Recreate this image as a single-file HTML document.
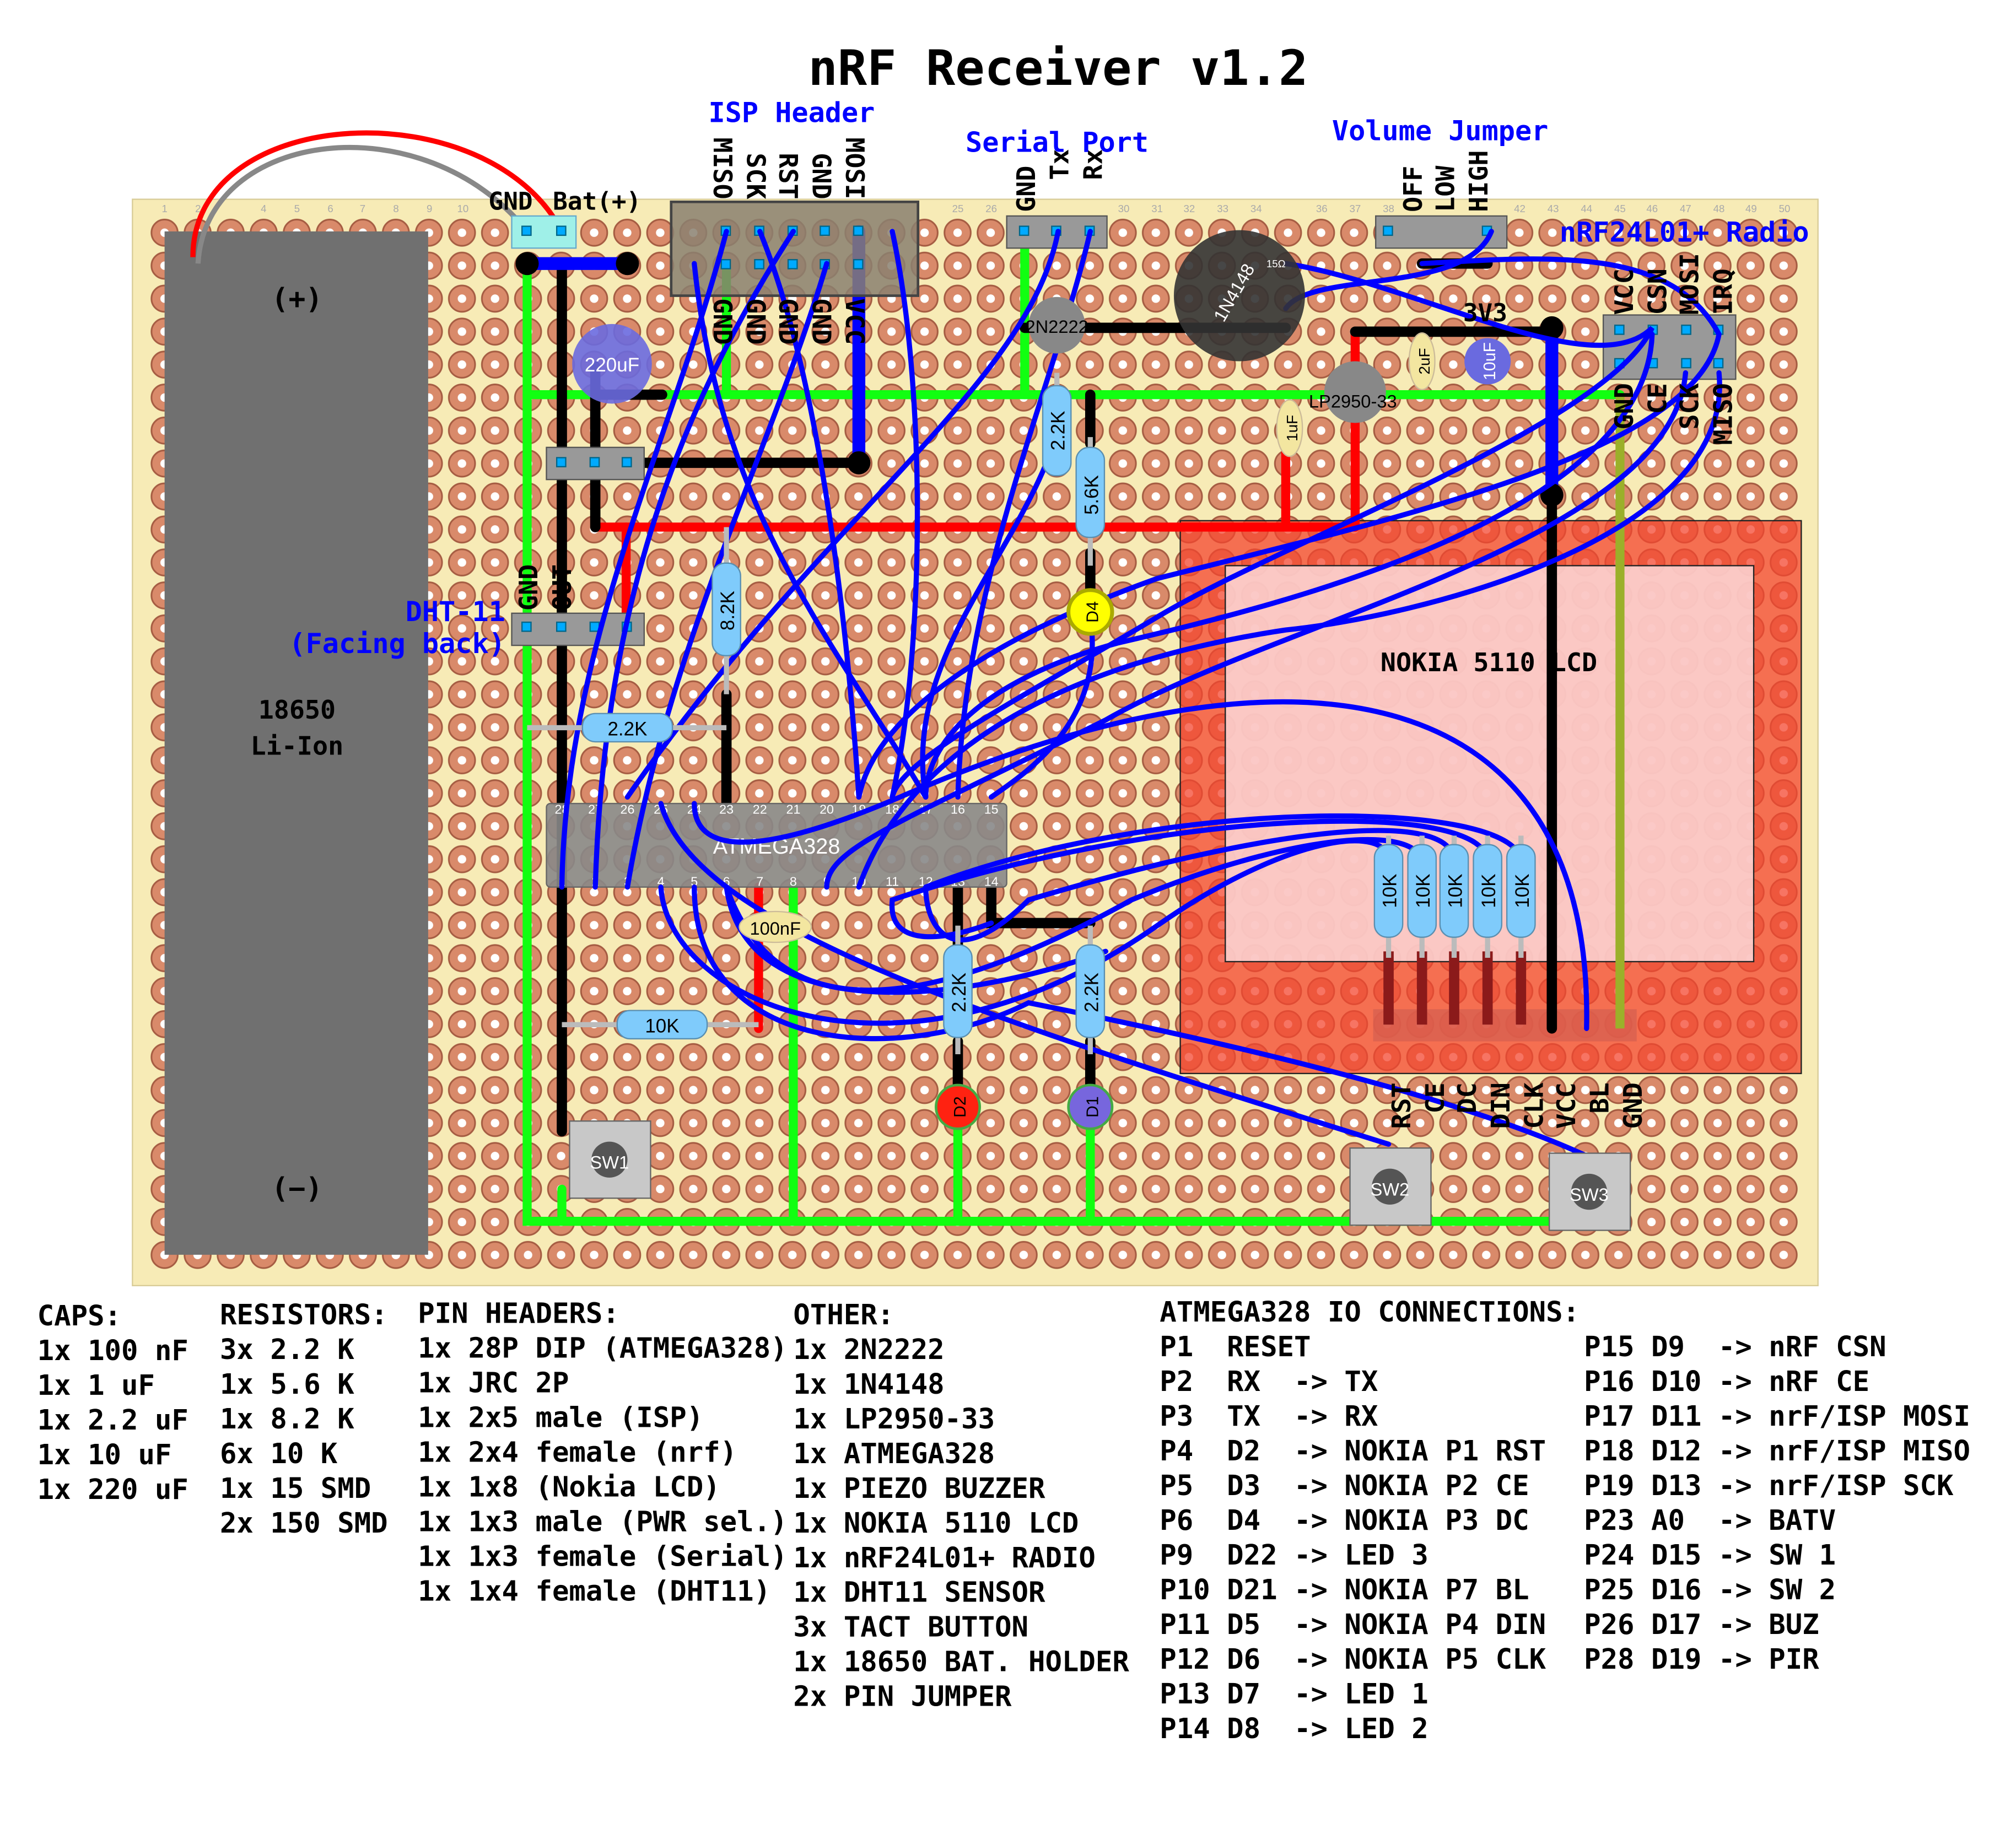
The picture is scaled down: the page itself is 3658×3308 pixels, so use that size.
<!DOCTYPE html>
<html><head><meta charset="utf-8"><style>
html,body{margin:0;padding:0;background:#fff}
svg{display:block}
.m{font-family:"DejaVu Sans Mono","Liberation Mono",monospace;font-weight:bold}
.s{font-family:"Liberation Sans","DejaVu Sans",sans-serif}
</style></head><body>
<svg width="3658" height="3308" viewBox="0 0 1568 1418" xmlns="http://www.w3.org/2000/svg">
<defs>
<pattern id="h" x="115.15" y="168.2" width="25.7" height="25.65" patternUnits="userSpaceOnUse">
<circle cx="12.85" cy="12.8" r="10.2" fill="#d98a6a" stroke="#a55c42" stroke-width="1.3"/>
<circle cx="12.85" cy="12.8" r="3.3" fill="#fff"/>
</pattern>
</defs>
<rect width="1568" height="1418" fill="#fff"/>
<text x="823" y="66" class="m" font-size="38" text-anchor="middle">nRF Receiver v1.2</text>
<rect x="103" y="155" width="1311" height="845" fill="#f7ebb6" stroke="#d8cc98"/>
<rect x="115" y="168" width="1286" height="822" fill="url(#h)"/>
<g class="s" font-size="8" fill="#aaa" text-anchor="middle">
<text x="128" y="165">1</text><text x="154" y="165">2</text><text x="205" y="165">4</text><text x="231" y="165">5</text><text x="257" y="165">6</text><text x="282" y="165">7</text><text x="308" y="165">8</text><text x="334" y="165">9</text><text x="360" y="165">10</text><text x="745" y="165">25</text><text x="771" y="165">26</text><text x="874" y="165">30</text><text x="900" y="165">31</text><text x="925" y="165">32</text><text x="951" y="165">33</text><text x="977" y="165">34</text><text x="1028" y="165">36</text><text x="1054" y="165">37</text><text x="1080" y="165">38</text><text x="1182" y="165">42</text><text x="1208" y="165">43</text><text x="1234" y="165">44</text><text x="1260" y="165">45</text><text x="1285" y="165">46</text><text x="1311" y="165">47</text><text x="1337" y="165">48</text><text x="1362" y="165">49</text><text x="1388" y="165">50</text>
</g>
<rect x="918" y="405" width="483" height="430" fill="#f4452f" fill-opacity="0.75" stroke="#222"/>
<rect x="953" y="440" width="411" height="308" fill="#fbd8d8" fill-opacity="0.85" stroke="#222"/>
<text x="1158" y="522" class="m" font-size="20" text-anchor="middle">NOKIA 5110 LCD</text>
<rect x="1068" y="785" width="205" height="25" fill="#d86050" opacity="0.8"/>
<g stroke="#8b1a1a" stroke-width="8">
<line x1="1080" y1="740" x2="1080" y2="797"/><line x1="1106" y1="740" x2="1106" y2="797"/><line x1="1131" y1="740" x2="1131" y2="797"/><line x1="1157" y1="740" x2="1157" y2="797"/><line x1="1183" y1="740" x2="1183" y2="797"/>
</g>
<rect x="128" y="180" width="205" height="796" fill="#707070"/>
<text x="231" y="240" class="m" font-size="22" text-anchor="middle">(+)</text>
<text x="231" y="932" class="m" font-size="22" text-anchor="middle">(−)</text>
<text x="231" y="559" class="m" font-size="20" text-anchor="middle">18650</text>
<text x="231" y="587" class="m" font-size="20" text-anchor="middle">Li-Ion</text>
<path d="M154 205 C160 100 330 80 410 180" fill="none" stroke="#888" stroke-width="4"/>
<path d="M150 200 C150 80 380 70 437 180" fill="none" stroke="#f00" stroke-width="4"/>
<g stroke="#1f1" stroke-width="7" fill="none" stroke-linecap="round">
<path d="M410 205 V950 H1240"/><path d="M410 307 H1260"/><path d="M797 180 V307"/><path d="M617 690 V950"/><path d="M745 870 V950"/><path d="M848 870 V950"/><path d="M565 205 V307"/><path d="M437 925 V950"/>
</g>
<path d="M1260 307 V800" stroke="#9bb02a" stroke-width="7"/>
<g stroke="#f00" stroke-width="7" fill="none" stroke-linecap="round">
<path d="M463 410 H1054"/><path d="M487 410 V488"/><path d="M1000 350 V410"/><path d="M1054 258 V410"/><path d="M590 690 V800"/>
</g>
<g stroke="#000" stroke-width="8" fill="none" stroke-linecap="round">
<path d="M437 205 V880"/><path d="M463 285 V410"/><path d="M463 307 H515"/><path d="M463 360 H668"/><path d="M797 255 H1000"/><path d="M1054 258 H1207"/><path d="M1207 255 V800"/><path d="M565 540 V625"/><path d="M848 307 V345"/><path d="M848 430 V470"/><path d="M745 690 V740"/><path d="M771 690 V718 H848"/><path d="M745 810 V850"/><path d="M848 810 V850"/><path d="M1106 205 H1157"/>
</g>
<g stroke="#00f" stroke-width="10" stroke-linecap="round"><path d="M410 205 H488"/><path d="M668 180 V360"/><path d="M1207 255 V385"/></g>
<circle cx="410" cy="205" r="9"/><circle cx="488" cy="205" r="9"/><circle cx="668" cy="360" r="9"/><circle cx="1207" cy="385" r="9"/><circle cx="1207" cy="255" r="9"/>
<rect x="398" y="168" width="50" height="25" fill="#9ff0e8" stroke="#6ac"/>
<rect x="522" y="157" width="192" height="73" fill="#8a8070" fill-opacity="0.85" stroke="#444" stroke-width="2"/>
<rect x="783" y="168" width="78" height="25" fill="#999" stroke="#555"/>
<rect x="1070" y="168" width="102" height="25" fill="#999" stroke="#555"/>
<rect x="1247" y="245" width="103" height="50" fill="#999" stroke="#555"/>
<rect x="425" y="348" width="76" height="25" fill="#999" stroke="#555"/>
<rect x="398" y="477" width="103" height="25" fill="#999" stroke="#555"/>
<g fill="#0af" stroke="#068">
<rect x="406" y="176" width="7" height="7"/><rect x="433" y="176" width="7" height="7"/>
<rect x="561" y="176" width="7" height="7"/><rect x="587" y="176" width="7" height="7"/><rect x="613" y="176" width="7" height="7"/><rect x="638" y="176" width="7" height="7"/><rect x="664" y="176" width="7" height="7"/>
<rect x="561" y="202" width="7" height="7"/><rect x="587" y="202" width="7" height="7"/><rect x="613" y="202" width="7" height="7"/><rect x="638" y="202" width="7" height="7"/><rect x="664" y="202" width="7" height="7"/>
<rect x="793" y="176" width="7" height="7"/><rect x="818" y="176" width="7" height="7"/><rect x="844" y="176" width="7" height="7"/>
<rect x="1076" y="176" width="7" height="7"/><rect x="1153" y="176" width="7" height="7"/>
<rect x="1256" y="253" width="7" height="7"/><rect x="1282" y="253" width="7" height="7"/><rect x="1308" y="253" width="7" height="7"/><rect x="1333" y="253" width="7" height="7"/>
<rect x="1256" y="279" width="7" height="7"/><rect x="1282" y="279" width="7" height="7"/><rect x="1308" y="279" width="7" height="7"/><rect x="1333" y="279" width="7" height="7"/>
<rect x="433" y="356" width="7" height="7"/><rect x="459" y="356" width="7" height="7"/><rect x="484" y="356" width="7" height="7"/>
<rect x="406" y="484" width="7" height="7"/><rect x="433" y="484" width="7" height="7"/><rect x="459" y="484" width="7" height="7"/><rect x="484" y="484" width="7" height="7"/>
</g>
<rect x="425" y="625" width="358" height="65" rx="3" fill="#888" fill-opacity="0.9" stroke="#666"/>
<text x="604" y="664" class="s" font-size="17" fill="#fff" text-anchor="middle">ATMEGA328</text>
<g class="s" font-size="10" fill="#fff" text-anchor="middle">
<text x="437" y="633">28</text><text x="463" y="633">27</text><text x="488" y="633">26</text><text x="514" y="633">25</text><text x="540" y="633">24</text><text x="565" y="633">23</text><text x="591" y="633">22</text><text x="617" y="633">21</text><text x="643" y="633">20</text><text x="668" y="633">19</text><text x="694" y="633">18</text><text x="720" y="633">17</text><text x="745" y="633">16</text><text x="771" y="633">15</text>
<text x="437" y="689">1</text><text x="463" y="689">2</text><text x="488" y="689">3</text><text x="514" y="689">4</text><text x="540" y="689">5</text><text x="565" y="689">6</text><text x="591" y="689">7</text><text x="617" y="689">8</text><text x="643" y="689">9</text><text x="668" y="689">10</text><text x="694" y="689">11</text><text x="720" y="689">12</text><text x="745" y="689">13</text><text x="771" y="689">14</text>
</g>
<g stroke="#00f" stroke-width="4" fill="none" stroke-linecap="round">
<path d="M565 180 C520 350 440 500 437 690"/>
<path d="M591 180 C640 300 660 500 668 620"/>
<path d="M617 180 C540 300 470 450 463 690"/>
<path d="M694 180 C720 300 720 500 694 620"/>
<path d="M643 205 C600 350 520 500 488 690"/>
<path d="M540 205 C560 400 650 500 720 620"/>
<path d="M823 180 C800 300 640 400 488 620"/>
<path d="M848 180 C820 300 750 450 745 620"/>
<path d="M830 307 C810 420 700 500 720 620"/>
<path d="M848 480 C860 560 800 600 771 620"/>
<path d="M1000 205 C1100 220 1240 300 1285 255 C1250 330 1000 420 900 480 C800 540 700 590 694 620"/>
<path d="M1160 180 C1140 230 1020 210 1000 240"/>
<path d="M1106 205 C1200 200 1300 190 1337 260 C1320 350 1100 400 900 450 C760 500 680 560 668 620"/>
<path d="M1285 260 C1280 400 1000 470 870 500 C760 530 720 580 720 620"/>
<path d="M1311 290 C1300 420 1000 480 860 560 C700 640 643 660 643 690"/>
<path d="M1337 290 C1350 420 1100 480 1000 490 C800 520 700 600 668 690"/>
<path d="M1234 800 C1240 520 1000 490 700 620 C560 680 540 650 540 625"/>
<path d="M1183 670 C1180 620 900 620 720 690"/>
<path d="M1157 670 C1155 620 900 630 694 700 C690 740 740 730 771 718"/>
<path d="M1131 670 C1130 630 1000 640 800 700 C740 760 720 720 720 690"/>
<path d="M1106 670 C1100 640 1000 650 880 700 C700 800 600 790 565 690"/>
<path d="M1080 670 C1080 640 1000 650 900 720 C700 860 520 780 514 690"/>
<path d="M514 625 C540 720 760 790 1080 890"/>
<path d="M540 690 C540 820 700 830 800 780 C1000 820 1150 860 1236 900"/>
<path d="M565 690 C580 800 750 780 860 740"/>
</g>
<g stroke="#bbb" stroke-width="4"><line x1="822" y1="290" x2="822" y2="370"/><line x1="848" y1="340" x2="848" y2="440"/><line x1="565" y1="410" x2="565" y2="540"/><line x1="410" y1="566" x2="565" y2="566"/><line x1="437" y1="797" x2="590" y2="797"/><line x1="745" y1="720" x2="745" y2="820"/><line x1="848" y1="720" x2="848" y2="820"/><line x1="1080" y1="650" x2="1080" y2="745"/><line x1="1106" y1="650" x2="1106" y2="745"/><line x1="1131" y1="650" x2="1131" y2="745"/><line x1="1157" y1="650" x2="1157" y2="745"/><line x1="1183" y1="650" x2="1183" y2="745"/></g>
<g fill="#7fcbfb" stroke="#5a8fb0">
<rect x="811" y="300" width="22" height="70" rx="10"/><rect x="837" y="348" width="22" height="70" rx="10"/><rect x="554" y="438" width="22" height="72" rx="10"/><rect x="453" y="555" width="70" height="22" rx="10"/><rect x="480" y="786" width="70" height="22" rx="10"/><rect x="734" y="735" width="22" height="72" rx="10"/><rect x="837" y="735" width="22" height="72" rx="10"/>
<rect x="1069" y="657" width="22" height="72" rx="10"/><rect x="1095" y="657" width="22" height="72" rx="10"/><rect x="1120" y="657" width="22" height="72" rx="10"/><rect x="1146" y="657" width="22" height="72" rx="10"/><rect x="1172" y="657" width="22" height="72" rx="10"/>
</g>
<g class="s" font-size="15" text-anchor="middle">
<text transform="translate(828,335) rotate(-90)">2.2K</text><text transform="translate(854,385) rotate(-90)">5.6K</text><text transform="translate(571,475) rotate(-90)">8.2K</text><text x="488" y="572">2.2K</text><text x="515" y="803">10K</text><text transform="translate(751,772) rotate(-90)">2.2K</text><text transform="translate(854,772) rotate(-90)">2.2K</text>
<text transform="translate(1086,693) rotate(-90)">10K</text><text transform="translate(1112,693) rotate(-90)">10K</text><text transform="translate(1137,693) rotate(-90)">10K</text><text transform="translate(1163,693) rotate(-90)">10K</text><text transform="translate(1189,693) rotate(-90)">10K</text>
</g>
<circle cx="476" cy="283" r="31" fill="#6a6adf" fill-opacity="0.9"/><text x="476" y="289" class="s" font-size="15" fill="#fff" text-anchor="middle">220uF</text>
<circle cx="1157" cy="281" r="18" fill="#6a6adf"/><text transform="translate(1163,281) rotate(-90)" class="s" font-size="13" fill="#fff" text-anchor="middle">10uF</text>
<ellipse cx="1106" cy="281" rx="10" ry="22" fill="#f3e6a0" stroke="#cb9"/><text transform="translate(1112,281) rotate(-90)" class="s" font-size="12" text-anchor="middle">2uF</text>
<ellipse cx="1003" cy="333" rx="10" ry="22" fill="#f3e6a0" stroke="#cb9"/><text transform="translate(1009,333) rotate(-90)" class="s" font-size="12" text-anchor="middle">1uF</text>
<ellipse cx="603" cy="721" rx="28" ry="12" fill="#f3e6a0" stroke="#cb9"/><text x="603" y="727" class="s" font-size="14" text-anchor="middle">100nF</text>
<circle cx="964" cy="230" r="51" fill="#333" fill-opacity="0.9"/><text transform="translate(964,230) rotate(-60)" class="s" font-size="14" fill="#fff" text-anchor="middle">1N4148</text>
<text x="985" y="208" class="s" font-size="8" fill="#fff">15Ω</text>
<circle cx="1054" cy="305" r="24" fill="#888"/><text x="1018" y="317" class="s" font-size="14">LP2950-33</text>
<circle cx="822" cy="253" r="22" fill="#888"/><text x="822" y="259" class="s" font-size="14" text-anchor="middle">2N2222</text>
<circle cx="848" cy="476" r="17" fill="#ff0" stroke="#aa0" stroke-width="3"/><text transform="translate(854,476) rotate(-90)" class="s" font-size="13" text-anchor="middle">D4</text>
<circle cx="745" cy="861" r="17" fill="#f21" stroke="#4a4" stroke-width="2"/><text transform="translate(751,861) rotate(-90)" class="s" font-size="13" text-anchor="middle">D2</text>
<circle cx="848" cy="861" r="17" fill="#76d" stroke="#4a4" stroke-width="2"/><text transform="translate(854,861) rotate(-90)" class="s" font-size="13" text-anchor="middle">D1</text>
<rect x="443" y="872" width="63" height="60" fill="#c8c8c8" stroke="#666"/><circle cx="474" cy="902" r="14" fill="#555"/><text x="474" y="909" class="s" font-size="14" fill="#fff" text-anchor="middle">SW1</text>
<rect x="1050" y="893" width="63" height="60" fill="#c8c8c8" stroke="#666"/><circle cx="1081" cy="923" r="14" fill="#555"/><text x="1081" y="930" class="s" font-size="14" fill="#fff" text-anchor="middle">SW2</text>
<rect x="1205" y="897" width="63" height="60" fill="#c8c8c8" stroke="#666"/><circle cx="1236" cy="927" r="14" fill="#555"/><text x="1236" y="934" class="s" font-size="14" fill="#fff" text-anchor="middle">SW3</text>
<g class="m" font-size="20">
<text x="380" y="163" font-size="19">GND</text><text x="430" y="163" font-size="19">Bat(+)</text>
<g text-anchor="end"><text transform="translate(1097,842) rotate(-90)">RST</text><text transform="translate(1123,842) rotate(-90)">CE</text><text transform="translate(1148,842) rotate(-90)">DC</text><text transform="translate(1174,842) rotate(-90)">DIN</text><text transform="translate(1200,842) rotate(-90)">CLK</text><text transform="translate(1225,842) rotate(-90)">VCC</text><text transform="translate(1251,842) rotate(-90)">BL</text><text transform="translate(1277,842) rotate(-90)">GND</text>
<text transform="translate(1270,298) rotate(-90)">GND</text><text transform="translate(1296,298) rotate(-90)">CE</text><text transform="translate(1321,298) rotate(-90)">SCK</text><text transform="translate(1347,298) rotate(-90)">MISO</text></g>
<g text-anchor="end"><text transform="translate(555,155) rotate(90)">MISO</text><text transform="translate(581,155) rotate(90)">SCK</text><text transform="translate(606,155) rotate(90)">RST</text><text transform="translate(632,155) rotate(90)">GND</text><text transform="translate(658,155) rotate(90)">MOSI</text></g>
<text transform="translate(555,232) rotate(90)">GND</text><text transform="translate(581,232) rotate(90)">GND</text><text transform="translate(606,232) rotate(90)">GND</text><text transform="translate(632,232) rotate(90)">GND</text><text transform="translate(658,232) rotate(90)">VCC</text>
<text transform="translate(805,165) rotate(-90)">GND</text><text transform="translate(831,140) rotate(-90)">Tx</text><text transform="translate(857,140) rotate(-90)">Rx</text>
<text transform="translate(1106,165) rotate(-90)">OFF</text><text transform="translate(1131,165) rotate(-90)">LOW</text><text transform="translate(1157,165) rotate(-90)">HIGH</text>
<text transform="translate(1270,245) rotate(-90)">VCC</text><text transform="translate(1296,245) rotate(-90)">CSN</text><text transform="translate(1321,245) rotate(-90)">MOSI</text><text transform="translate(1347,245) rotate(-90)">IRQ</text>
<text transform="translate(418,475) rotate(-90)">GND</text><text transform="translate(444,475) rotate(-90)">OUT</text>
<text x="1138" y="250" font-size="19">3V3</text>
</g>
<g class="m" font-size="21.5" fill="#00f">
<text x="551" y="95">ISP Header</text><text x="751" y="118">Serial Port</text><text x="1036" y="109">Volume Jumper</text><text x="1213" y="188">nRF24L01+ Radio</text>
<text x="393" y="483" text-anchor="end">DHT-11</text><text x="393" y="508" text-anchor="end">(Facing back)</text>
</g>
<g class="m" font-size="21.7">
<text x="29" y="1031">CAPS:</text><text x="29" y="1058">1x 100 nF</text><text x="29" y="1085">1x 1 uF</text><text x="29" y="1112">1x 2.2 uF</text><text x="29" y="1139">1x 10 uF</text><text x="29" y="1166">1x 220 uF</text>
<text x="171" y="1030">RESISTORS:</text><text x="171" y="1057">3x 2.2 K</text><text x="171" y="1084">1x 5.6 K</text><text x="171" y="1111">1x 8.2 K</text><text x="171" y="1138">6x 10 K</text><text x="171" y="1165">1x 15 SMD</text><text x="171" y="1192">2x 150 SMD</text>
<text x="325" y="1029">PIN HEADERS:</text><text x="325" y="1056">1x 28P DIP (ATMEGA328)</text><text x="325" y="1083">1x JRC 2P</text><text x="325" y="1110">1x 2x5 male (ISP)</text><text x="325" y="1137">1x 2x4 female (nrf)</text><text x="325" y="1164">1x 1x8 (Nokia LCD)</text><text x="325" y="1191">1x 1x3 male (PWR sel.)</text><text x="325" y="1218">1x 1x3 female (Serial)</text><text x="325" y="1245">1x 1x4 female (DHT11)</text>
<text x="617" y="1030">OTHER:</text><text x="617" y="1057">1x 2N2222</text><text x="617" y="1084">1x 1N4148</text><text x="617" y="1111">1x LP2950-33</text><text x="617" y="1138">1x ATMEGA328</text><text x="617" y="1165">1x PIEZO BUZZER</text><text x="617" y="1192">1x NOKIA 5110 LCD</text><text x="617" y="1219">1x nRF24L01+ RADIO</text><text x="617" y="1246">1x DHT11 SENSOR</text><text x="617" y="1273">3x TACT BUTTON</text><text x="617" y="1300">1x 18650 BAT. HOLDER</text><text x="617" y="1327">2x PIN JUMPER</text>
<text x="902" y="1028">ATMEGA328 IO CONNECTIONS:</text>
<text x="902" y="1055" xml:space="preserve">P1  RESET</text><text x="902" y="1082" xml:space="preserve">P2  RX  -&gt; TX</text><text x="902" y="1109" xml:space="preserve">P3  TX  -&gt; RX</text><text x="902" y="1136" xml:space="preserve">P4  D2  -&gt; NOKIA P1 RST</text><text x="902" y="1163" xml:space="preserve">P5  D3  -&gt; NOKIA P2 CE</text><text x="902" y="1190" xml:space="preserve">P6  D4  -&gt; NOKIA P3 DC</text><text x="902" y="1217" xml:space="preserve">P9  D22 -&gt; LED 3</text><text x="902" y="1244" xml:space="preserve">P10 D21 -&gt; NOKIA P7 BL</text><text x="902" y="1271" xml:space="preserve">P11 D5  -&gt; NOKIA P4 DIN</text><text x="902" y="1298" xml:space="preserve">P12 D6  -&gt; NOKIA P5 CLK</text><text x="902" y="1325" xml:space="preserve">P13 D7  -&gt; LED 1</text><text x="902" y="1352" xml:space="preserve">P14 D8  -&gt; LED 2</text>
<text x="1232" y="1055" xml:space="preserve">P15 D9  -&gt; nRF CSN</text><text x="1232" y="1082" xml:space="preserve">P16 D10 -&gt; nRF CE</text><text x="1232" y="1109" xml:space="preserve">P17 D11 -&gt; nrF/ISP MOSI</text><text x="1232" y="1136" xml:space="preserve">P18 D12 -&gt; nrF/ISP MISO</text><text x="1232" y="1163" xml:space="preserve">P19 D13 -&gt; nrF/ISP SCK</text><text x="1232" y="1190" xml:space="preserve">P23 A0  -&gt; BATV</text><text x="1232" y="1217" xml:space="preserve">P24 D15 -&gt; SW 1</text><text x="1232" y="1244" xml:space="preserve">P25 D16 -&gt; SW 2</text><text x="1232" y="1271" xml:space="preserve">P26 D17 -&gt; BUZ</text><text x="1232" y="1298" xml:space="preserve">P28 D19 -&gt; PIR</text>
</g>
</svg>
</body></html>
